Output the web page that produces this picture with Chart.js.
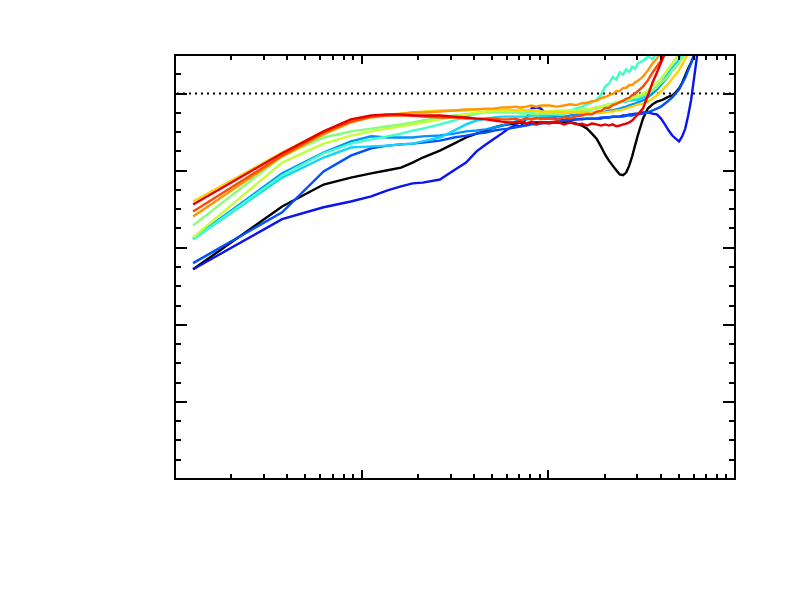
<!DOCTYPE html>
<html>
<head>
<meta charset="utf-8">
<title>Normalised spectra</title>
<script src="https://cdn.jsdelivr.net/npm/chart.js@4.4.1/dist/chart.umd.min.js"></script>
<style>
    html, body { margin: 0; padding: 0; background: #ffffff; }
</style>
</head>
<body>
<canvas id="chart" width="786" height="591"></canvas>
<script>
// Frequency grid shared by every curve
var freq = [1.25, 3.75, 6.25, 8.75, 11.25, 13.75, 16.25, 18.75, 21.25, 26.25,
    31.25, 36.25, 41.25, 46.25, 51.25, 56.25, 61.25, 66.25, 71.25, 76.25,
    81.25, 86.25, 91.25, 101.25, 111.25, 121.25, 131.25, 141.25, 151.25, 161.25,
    171.25, 181.25, 191.25, 201.25, 211.25, 221.25, 231.25, 241.25, 251.25, 261.25,
    271.25, 281.25, 291.25, 301.25, 321.25, 341.25, 361.25, 381.25, 401.25, 421.25,
    441.25, 461.25, 481.25, 501.25, 521.25, 541.25, 561.25, 581.25, 601.25, 621.25,
    641.25, 661.25];

// Curves (left to right)
var red = [0.712, 0.845, 0.902, 0.933, 0.943, 0.946, 0.946, 0.943, 0.943, 0.943,
    0.940, 0.938, 0.935, 0.933, 0.930, 0.927, 0.925, 0.925, 0.927, 0.922,
    0.927, 0.920, 0.925, 0.922, 0.927, 0.920, 0.925, 0.920, 0.922, 0.917,
    0.922, 0.920, 0.917, 0.920, 0.917, 0.920, 0.915, 0.917, 0.920, 0.922,
    0.925, 0.930, 0.938, 0.946, 0.961, 0.995, 1.028, 1.054, 1.080, 1.106,
    1.132];
var darkOrange = [0.694, 0.839, 0.899, 0.927, 0.940, 0.943, 0.943, 0.943, 0.940, 0.938,
    0.938, 0.935, 0.935, 0.935, 0.935, 0.933, 0.933, 0.935, 0.931, 0.936,
    0.933, 0.937, 0.934, 0.935, 0.932, 0.938, 0.936, 0.941, 0.943, 0.947,
    0.946, 0.953, 0.955, 0.962, 0.963, 0.970, 0.973, 0.978, 0.981, 0.986,
    0.989, 0.996, 0.999, 1.006, 1.018, 1.034, 1.054, 1.070, 1.085, 1.101,
    1.117];
var orange = [0.681, 0.837, 0.894, 0.925, 0.938, 0.943, 0.948, 0.951, 0.951, 0.953,
    0.956, 0.959, 0.959, 0.961, 0.961, 0.964, 0.964, 0.966, 0.964, 0.966,
    0.969, 0.966, 0.969, 0.969, 0.966, 0.969, 0.972, 0.970, 0.975, 0.976,
    0.980, 0.981, 0.988, 0.991, 0.996, 0.999, 1.006, 1.007, 1.014, 1.015,
    1.022, 1.022, 1.029, 1.033, 1.044, 1.060, 1.078, 1.091, 1.106, 1.122];
var yellow = [0.720, 0.847, 0.902, 0.930, 0.940, 0.946, 0.948, 0.951, 0.953, 0.956,
    0.956, 0.956, 0.959, 0.959, 0.959, 0.959, 0.959, 0.956, 0.959, 0.956,
    0.956, 0.956, 0.953, 0.953, 0.953, 0.951, 0.951, 0.951, 0.951, 0.951,
    0.951, 0.951, 0.951, 0.951, 0.953, 0.953, 0.956, 0.956, 0.959, 0.961,
    0.964, 0.966, 0.969, 0.972, 0.974, 0.979, 0.987, 0.995, 1.005, 1.016,
    1.026, 1.039, 1.049, 1.060, 1.075, 1.091, 1.106, 1.122];
var yellowGreen = [0.627, 0.821, 0.870, 0.891, 0.902, 0.909, 0.915, 0.920, 0.925, 0.933,
    0.940, 0.946, 0.951, 0.953, 0.956, 0.956, 0.956, 0.956, 0.956, 0.956,
    0.956, 0.953, 0.953, 0.953, 0.956, 0.956, 0.956, 0.956, 0.959, 0.959,
    0.961, 0.964, 0.966, 0.969, 0.972, 0.974, 0.977, 0.979, 0.982, 0.984,
    0.987, 0.990, 0.992, 0.995, 1.000, 1.008, 1.018, 1.028, 1.039, 1.052,
    1.065, 1.078, 1.091, 1.104, 1.117];
var lightGreen = [0.658, 0.837, 0.886, 0.902, 0.909, 0.915, 0.920, 0.925, 0.930, 0.938,
    0.943, 0.946, 0.948, 0.951, 0.951, 0.951, 0.951, 0.951, 0.948, 0.948,
    0.948, 0.946, 0.948, 0.948, 0.948, 0.948, 0.951, 0.951, 0.953, 0.956,
    0.959, 0.961, 0.964, 0.966, 0.969, 0.972, 0.974, 0.977, 0.979, 0.982,
    0.984, 0.987, 0.990, 0.992, 0.995, 1.000, 1.008, 1.016, 1.028, 1.036,
    1.047, 1.060, 1.070, 1.080, 1.093, 1.106, 1.119];
var aquamarine = [0.622, 0.788, 0.845, 0.870, 0.881, 0.889, 0.896, 0.904, 0.909, 0.920,
    0.930, 0.940, 0.948, 0.953, 0.956, 0.956, 0.956, 0.953, 0.953, 0.951,
    0.951, 0.948, 0.948, 0.948, 0.951, 0.953, 0.956, 0.961, 0.966, 0.972,
    0.977, 0.984, 0.997, 1.018, 1.026, 1.043, 1.036, 1.055, 1.049, 1.063,
    1.056, 1.070, 1.064, 1.078, 1.085, 1.096, 1.090, 1.106, 1.117];
var lightCyan = [0.622, 0.782, 0.834, 0.860, 0.863, 0.865, 0.868, 0.870, 0.876, 0.886,
    0.904, 0.920, 0.930, 0.935, 0.938, 0.940, 0.940, 0.940, 0.940, 0.940,
    0.943, 0.943, 0.943, 0.943, 0.946, 0.948, 0.951, 0.953, 0.956, 0.959,
    0.961, 0.964, 0.966, 0.969, 0.972, 0.974, 0.977, 0.977, 0.979, 0.979,
    0.982, 0.982, 0.984, 0.984, 0.990, 0.997, 1.008, 1.018, 1.028, 1.041,
    1.054, 1.067, 1.078, 1.088, 1.098, 1.111];
var azure = [0.624, 0.793, 0.847, 0.876, 0.889, 0.886, 0.886, 0.886, 0.889, 0.891,
    0.896, 0.902, 0.904, 0.907, 0.912, 0.917, 0.922, 0.927, 0.930, 0.933,
    0.935, 0.935, 0.938, 0.938, 0.940, 0.940, 0.943, 0.946, 0.946, 0.948,
    0.948, 0.951, 0.951, 0.953, 0.956, 0.956, 0.959, 0.961, 0.964, 0.966,
    0.969, 0.972, 0.974, 0.977, 0.982, 0.990, 1.000, 1.010, 1.023, 1.034,
    1.047, 1.060, 1.070, 1.083, 1.093, 1.106, 1.117];
var blue = [0.560, 0.692, 0.798, 0.839, 0.858, 0.865, 0.868, 0.870, 0.873, 0.878,
    0.886, 0.891, 0.896, 0.899, 0.904, 0.907, 0.909, 0.912, 0.915, 0.917,
    0.920, 0.920, 0.922, 0.925, 0.927, 0.930, 0.933, 0.933, 0.935, 0.935,
    0.935, 0.935, 0.938, 0.938, 0.938, 0.940, 0.940, 0.940, 0.940, 0.943,
    0.943, 0.943, 0.946, 0.946, 0.948, 0.951, 0.956, 0.961, 0.966, 0.974,
    0.982, 0.990, 1.000, 1.010, 1.026, 1.041, 1.060, 1.078, 1.096, 1.114];
var darkBlue = [0.544, 0.674, 0.705, 0.720, 0.733, 0.749, 0.759, 0.767, 0.769, 0.777,
    0.801, 0.821, 0.850, 0.868, 0.883, 0.896, 0.909, 0.917, 0.915, 0.935,
    0.961, 0.964, 0.961, 0.938, 0.933, 0.930, 0.930, 0.933, 0.933, 0.935,
    0.935, 0.935, 0.935, 0.938, 0.938, 0.940, 0.940, 0.940, 0.943, 0.943,
    0.946, 0.946, 0.948, 0.948, 0.951, 0.951, 0.948, 0.946, 0.935, 0.920,
    0.904, 0.891, 0.883, 0.876, 0.889, 0.909, 0.943, 0.982, 1.034, 1.085,
    1.137];
var blackCurve = [0.544, 0.707, 0.764, 0.782, 0.793, 0.801, 0.808, 0.821, 0.834, 0.852,
    0.870, 0.886, 0.896, 0.904, 0.912, 0.917, 0.920, 0.922, 0.925, 0.922,
    0.925, 0.925, 0.925, 0.925, 0.925, 0.925, 0.925, 0.922, 0.917, 0.909,
    0.896, 0.883, 0.863, 0.842, 0.826, 0.813, 0.801, 0.790, 0.788, 0.795,
    0.813, 0.837, 0.865, 0.891, 0.935, 0.961, 0.972, 0.979, 0.982, 0.987,
    0.992, 0.995, 1.003, 1.013, 1.028, 1.047, 1.065, 1.080, 1.098, 1.117];

// Axis ticks
var xMajor = [10, 100];
var xMinor = [2, 3, 4, 5, 6, 7, 8, 9, 20, 30, 40, 50, 60, 70, 80, 90,
    200, 300, 400, 500, 600, 700, 800, 900];
var yMajor = [0.2, 0.4, 0.6, 0.8, 1.0];
var yMinor = [0.05, 0.1, 0.15, 0.25, 0.3, 0.35, 0.45, 0.5, 0.55, 0.65, 0.7, 0.75,
    0.85, 0.9, 0.95, 1.05];
var refLevel = 1.0;

// Build {x, y} points for one curve
function toPoints(values) {
    var pts = [];
    for (var i = 0; i < values.length; i++) {
        pts.push({ x: freq[i], y: values[i] });
    }
    return pts;
}

function curve(values, color) {
    return {
        data: toPoints(values),
        borderColor: color,
        borderWidth: 2.4,
        pointRadius: 0,
        tension: 0,
        fill: false
    };
}

// Frame, inward ticks and dotted reference line
var framePlugin = {
    id: 'frame',
    beforeDatasetsDraw: function(chart) {
        var ctx = chart.ctx;
        var a = chart.chartArea;
        var y = chart.scales.y.getPixelForValue(refLevel);
        ctx.save();
        ctx.strokeStyle = '#000000';
        ctx.lineWidth = 2;
        ctx.setLineDash([2, 4]);
        ctx.beginPath();
        ctx.moveTo(a.left + 2, y);
        ctx.lineTo(a.right, y);
        ctx.stroke();
        ctx.restore();
    },
    afterDatasetsDraw: function(chart) {
        var ctx = chart.ctx;
        var a = chart.chartArea;
        var xs = chart.scales.x;
        var ys = chart.scales.y;
        ctx.save();
        ctx.strokeStyle = '#000000';
        ctx.lineWidth = 2;
        ctx.beginPath();
        xMajor.forEach(function(v) {
            var px = Math.round(xs.getPixelForValue(v));
            ctx.moveTo(px, a.bottom); ctx.lineTo(px, a.bottom - 9);
            ctx.moveTo(px, a.top); ctx.lineTo(px, a.top + 9);
        });
        xMinor.forEach(function(v) {
            var px = Math.round(xs.getPixelForValue(v));
            ctx.moveTo(px, a.bottom); ctx.lineTo(px, a.bottom - 5);
            ctx.moveTo(px, a.top); ctx.lineTo(px, a.top + 5);
        });
        yMajor.forEach(function(v) {
            var py = Math.round(ys.getPixelForValue(v));
            ctx.moveTo(a.left, py); ctx.lineTo(a.left + 12, py);
            ctx.moveTo(a.right, py); ctx.lineTo(a.right - 12, py);
        });
        yMinor.forEach(function(v) {
            var py = Math.round(ys.getPixelForValue(v));
            ctx.moveTo(a.left, py); ctx.lineTo(a.left + 6, py);
            ctx.moveTo(a.right, py); ctx.lineTo(a.right - 6, py);
        });
        ctx.stroke();
        ctx.strokeRect(a.left, a.top, a.right - a.left, a.bottom - a.top);
        ctx.restore();
    }
};

new Chart(document.getElementById('chart'), {
    type: 'line',
    data: {
        datasets: [
            curve(red, '#e80000'),
            curve(darkOrange, '#ff4a00'),
            curve(orange, '#ff9600'),
            curve(yellow, '#ffd200'),
            curve(yellowGreen, '#c4ff3a'),
            curve(lightGreen, '#86ff78'),
            curve(aquamarine, '#3effc4'),
            curve(lightCyan, '#12d4ff'),
            curve(azure, '#0092ff'),
            curve(blue, '#0050ff'),
            curve(darkBlue, '#0a14f0'),
            curve(blackCurve, '#000000')
        ]
    },
    options: {
        responsive: false,
        animation: false,
        layout: { padding: { left: 175, right: 51, top: 55, bottom: 112 } },
        plugins: {
            legend: { display: false },
            tooltip: { enabled: false }
        },
        scales: {
            x: { type: 'logarithmic', min: 1, max: 1000, display: false },
            y: { type: 'linear', min: 0, max: 1.1, display: false }
        }
    },
    plugins: [framePlugin]
});
</script>
</body>
</html>
